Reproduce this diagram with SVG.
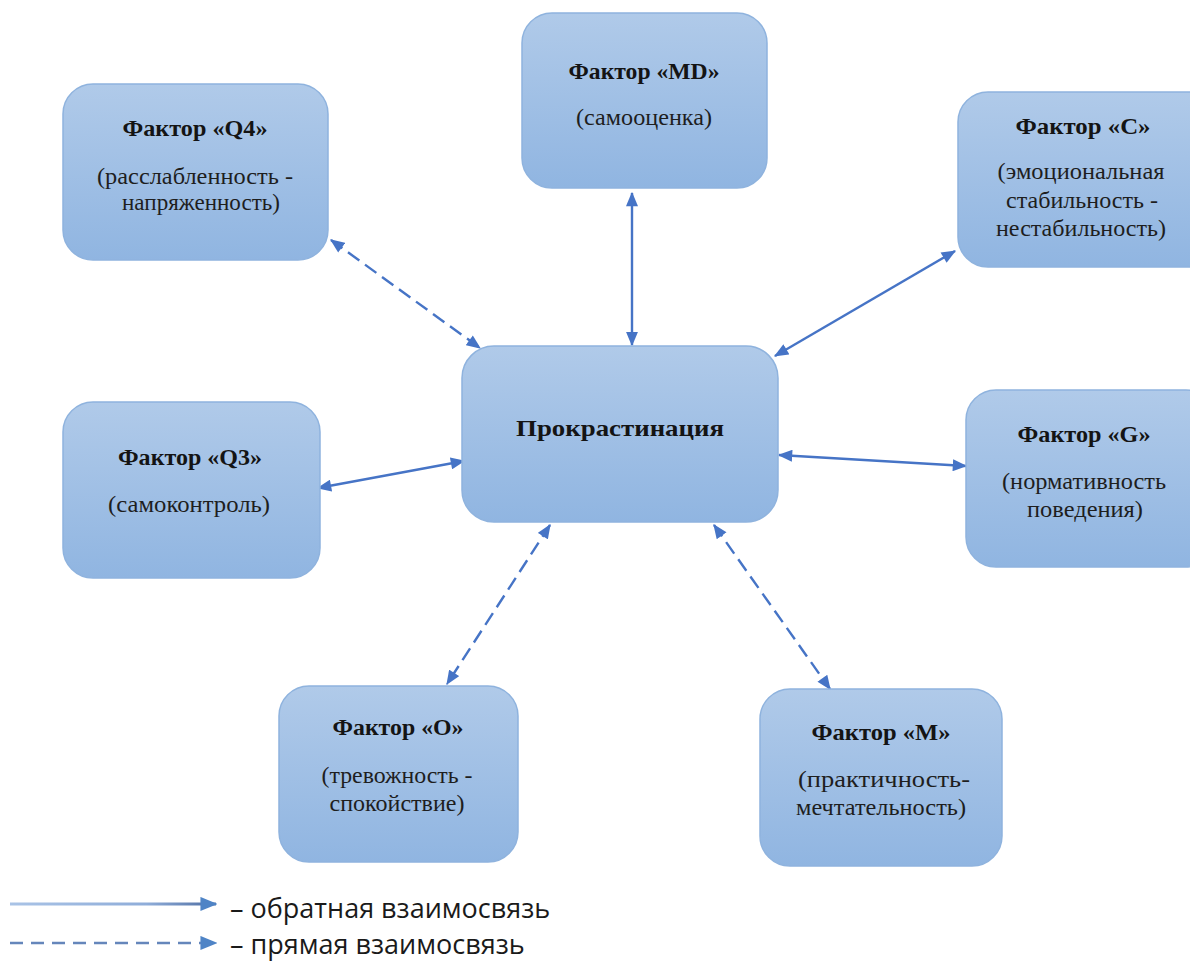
<svg xmlns="http://www.w3.org/2000/svg" width="1190" height="962" viewBox="0 0 1190 962">
<defs>
<linearGradient id="nodeFill" x1="0" y1="0" x2="0" y2="1">
<stop offset="0" stop-color="#b0cae9"/>
<stop offset="1" stop-color="#90b5e1"/>
</linearGradient>
<linearGradient id="legendLine" gradientUnits="userSpaceOnUse" x1="10" y1="0" x2="205" y2="0">
<stop offset="0" stop-color="#a9c3e6"/>
<stop offset="0.7" stop-color="#8fadd9"/>
<stop offset="1" stop-color="#5877aa"/>
</linearGradient>
<marker id="arr" viewBox="0 0 12 10" refX="11" refY="5" markerWidth="15" markerHeight="12" markerUnits="userSpaceOnUse" orient="auto-start-reverse">
<path d="M0,0 L12,5 L0,10 Z" fill="#4674c6"/>
</marker>
<marker id="legArr" viewBox="0 0 12 10" refX="11" refY="5" markerWidth="17" markerHeight="15" markerUnits="userSpaceOnUse" orient="auto">
<path d="M0,0 L12,5 L0,10 Z" fill="#4f84c6"/>
</marker>
</defs>
<style>
.node{fill:url(#nodeFill);stroke:#8fb3de;stroke-width:1.5}
.t{font-family:"Liberation Serif","Times New Roman",serif;font-weight:bold;font-size:23px;fill:#141414;text-anchor:middle}
.s{font-family:"Liberation Serif","Times New Roman",serif;font-size:23px;fill:#1e1e1e;text-anchor:middle}
.c{stroke:#4674c6;stroke-width:2.4;fill:none;marker-start:url(#arr);marker-end:url(#arr)}
.d{stroke-dasharray:14 7}
.leg{font-family:"Open Sans","Noto Sans",sans-serif;font-size:27px;fill:#1a1a1a}
</style>
<rect width="1190" height="962" fill="#ffffff"/>

<g id="connectors">
<line class="c d" x1="331" y1="240" x2="480" y2="348"/>
<line class="c" x1="632" y1="193" x2="632" y2="345"/>
<line class="c" x1="955" y1="251" x2="775" y2="356"/>
<line class="c" x1="318" y1="488" x2="464" y2="461"/>
<line class="c" x1="779" y1="455" x2="966" y2="466"/>
<line class="c d" x1="550" y1="525" x2="447" y2="684"/>
<line class="c d" x1="714" y1="525" x2="830" y2="689"/>
</g>

<g id="node-q4">
<rect class="node" x="63" y="84" width="265" height="176" rx="30"/>
<text class="t" x="195" y="136" textLength="145" lengthAdjust="spacingAndGlyphs">Фактор «Q4»</text>
<text class="s" x="195" y="184" textLength="196" lengthAdjust="spacingAndGlyphs">(расслабленность -</text>
<text class="s" x="201" y="210" textLength="158" lengthAdjust="spacingAndGlyphs">напряженность)</text>
</g>

<g id="node-md">
<rect class="node" x="522" y="13" width="245" height="175" rx="30"/>
<text class="t" x="644" y="79" textLength="151" lengthAdjust="spacingAndGlyphs">Фактор «MD»</text>
<text class="s" x="644" y="125" textLength="136" lengthAdjust="spacingAndGlyphs">(самооценка)</text>
</g>

<g id="node-c">
<rect class="node" x="958" y="92" width="260" height="175" rx="30"/>
<text class="t" x="1083" y="134" textLength="135" lengthAdjust="spacingAndGlyphs">Фактор «C»</text>
<text class="s" x="1081" y="179" textLength="167" lengthAdjust="spacingAndGlyphs">(эмоциональная</text>
<text class="s" x="1082" y="208" textLength="152" lengthAdjust="spacingAndGlyphs">стабильность -</text>
<text class="s" x="1081" y="236" textLength="170" lengthAdjust="spacingAndGlyphs">нестабильность)</text>
</g>

<g id="node-center">
<rect class="node" x="462" y="346" width="316" height="176" rx="32"/>
<text class="t" x="620" y="436" font-size="26" textLength="208" lengthAdjust="spacingAndGlyphs">Прокрастинация</text>
</g>

<g id="node-q3">
<rect class="node" x="63" y="402" width="257" height="176" rx="30"/>
<text class="t" x="190" y="465" textLength="144" lengthAdjust="spacingAndGlyphs">Фактор «Q3»</text>
<text class="s" x="189" y="512" textLength="162" lengthAdjust="spacingAndGlyphs">(самоконтроль)</text>
</g>

<g id="node-g">
<rect class="node" x="966" y="390" width="250" height="177" rx="30"/>
<text class="t" x="1084" y="442" textLength="133" lengthAdjust="spacingAndGlyphs">Фактор «G»</text>
<text class="s" x="1084" y="489" textLength="164" lengthAdjust="spacingAndGlyphs">(нормативность</text>
<text class="s" x="1085" y="517" textLength="116" lengthAdjust="spacingAndGlyphs">поведения)</text>
</g>

<g id="node-o">
<rect class="node" x="279" y="686" width="239" height="176" rx="30"/>
<text class="t" x="398" y="735" textLength="131" lengthAdjust="spacingAndGlyphs">Фактор «O»</text>
<text class="s" x="397" y="783" textLength="151" lengthAdjust="spacingAndGlyphs">(тревожность -</text>
<text class="s" x="397" y="811" textLength="135" lengthAdjust="spacingAndGlyphs">спокойствие)</text>
</g>

<g id="node-m">
<rect class="node" x="760" y="689" width="242" height="177" rx="30"/>
<text class="t" x="881" y="740" textLength="139" lengthAdjust="spacingAndGlyphs">Фактор «M»</text>
<text class="s" x="884" y="787" textLength="172" lengthAdjust="spacingAndGlyphs">(практичность-</text>
<text class="s" x="881" y="815" textLength="170" lengthAdjust="spacingAndGlyphs">мечтательность)</text>
</g>

<g id="legend">
<line x1="10" y1="904" x2="216" y2="904" stroke="url(#legendLine)" stroke-width="3" marker-end="url(#legArr)"/>
<line x1="10" y1="943" x2="216" y2="943" stroke="#6586bb" stroke-width="2.5" stroke-dasharray="13 8" marker-end="url(#legArr)"/>
<text class="leg" x="230" y="918">– обратная взаимосвязь</text>
<text class="leg" x="230" y="954">– прямая взаимосвязь</text>
</g>
</svg>
